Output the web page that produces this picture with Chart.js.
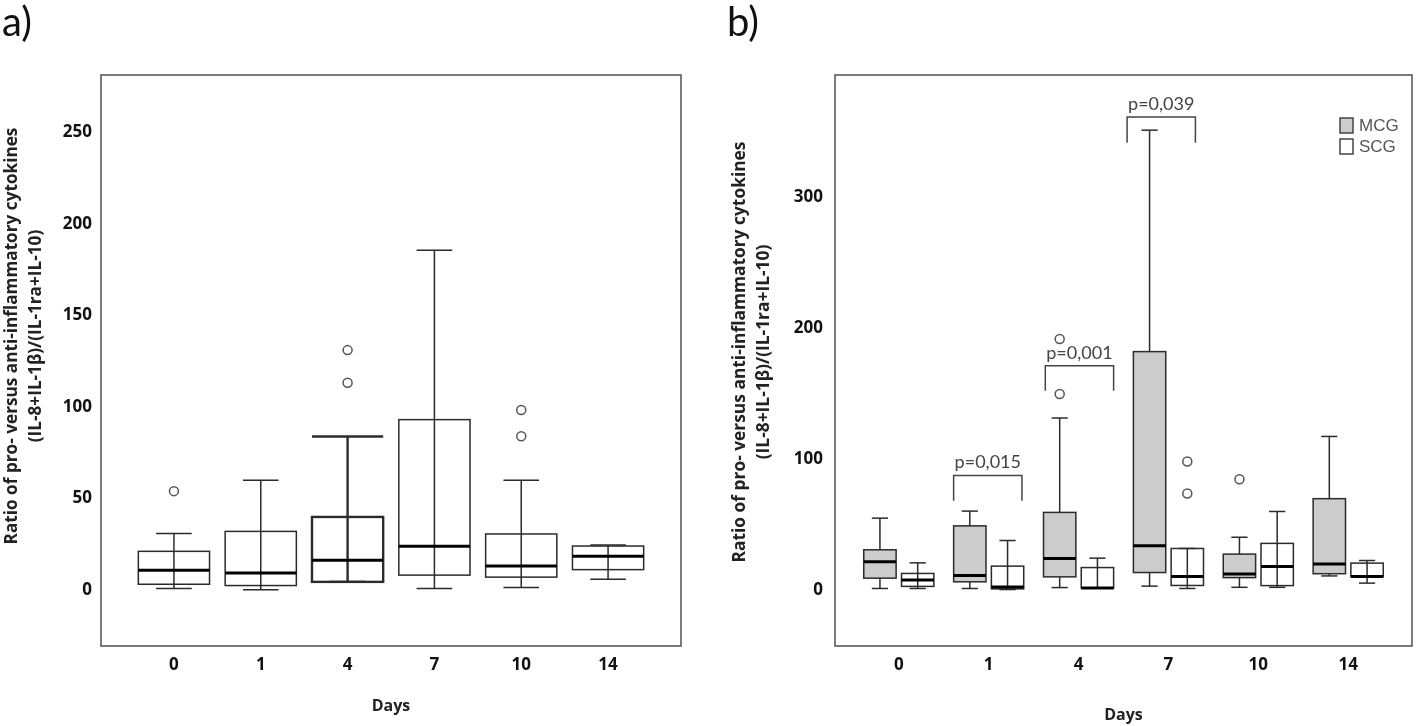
<!DOCTYPE html>
<html><head><meta charset="utf-8">
<script src="https://cdn.jsdelivr.net/npm/chart.js@4"></script>
<style>
html,body{margin:0;padding:0;background:#fff;width:1418px;height:726px;overflow:hidden}
#wa{position:absolute;left:0;top:0;width:709px;height:726px}
#wb{position:absolute;left:709px;top:0;width:709px;height:726px}
</style></head><body>
<div id="wa"><canvas id="ca" width="709" height="726"></canvas></div>
<div id="wb"><canvas id="cb" width="709" height="726"></canvas></div>
<script>
// ---------- data ----------
const days = ['0', '1', '4', '7', '10', '14'];

// panel a: all patients
const aMin = [0.7, 0.0, 4.3, 0.7, 1.2, 5.8];
const aQ1  = [3.0, 2.3, 4.3, 8.0, 6.9, 11.0];
const aMed = [10.7, 9.2, 16.1, 23.8, 13.0, 18.3];
const aQ3  = [21.0, 31.9, 39.8, 93.0, 30.5, 23.9];
const aMax = [30.7, 59.8, 83.8, 185.6, 59.8, 24.4];
const aOut = [[53.9], [], [113.2, 131.0], [], [83.9, 98.3], []];

// panel b: MCG
const mcgMin = [1.0, 1.0, 1.7, 2.8, 1.9, 10.6];
const mcgQ1  = [8.9, 6.1, 9.9, 13.2, 9.3, 12.3];
const mcgMed = [21.5, 10.9, 24.0, 33.6, 12.0, 19.7];
const mcgQ3  = [30.6, 48.9, 59.2, 182.2, 27.3, 69.7];
const mcgMax = [54.8, 60.2, 131.4, 351.6, 40.2, 117.3];
const mcgOut = [[], [], [149.8, 191.9], [], [84.5], []];

// panel b: SCG
const scgMin = [1.0, 0.2, 1.2, 1.0, 1.9, 5.1];
const scgQ1  = [2.6, 0.7, 1.3, 3.3, 3.2, 10.1];
const scgMed = [7.4, 2.2, 1.3, 10.2, 17.8, 10.1];
const scgQ3  = [12.5, 18.1, 17.0, 31.6, 35.5, 20.4];
const scgMax = [20.6, 37.7, 24.2, 31.6, 59.9, 22.4];
const scgOut = [[], [], [], [73.7, 98.2], [], []];

const yTicksA = [0, 50, 100, 150, 200, 250];
const yTicksB = [0, 100, 200, 300];

const pLabels = ['p=0,015', 'p=0,001', 'p=0,039'];
const pDay    = [1, 2, 3];
const pTop    = [87.5, 171.4, 361.6];
const pLeg    = [68.1, 152.3, 342.0];

const seriesNames = ['MCG', 'SCG'];
const yTitle = ['Ratio of pro- versus anti-inflammatory cytokines', '(IL-8+IL-1\u03B2)/(IL-1ra+IL-10)'];
const xTitle = 'Days';
const panelLabels = ['a)', 'b)'];

// ---------- styles ----------
const FONT = 'Lato, "Open Sans", sans-serif';
const BOLD = '"Open Sans", Lato, sans-serif';
const INK = '#2b2b2b';
const GREY_FILL = '#cccccc';
const wideCapA = [false, false, true, false, false, false];
const heavyA = [false, false, true, false, false, false];
const pShift = [-0.01, 0.01, -0.08];

function line(ctx, x1, y1, x2, y2) {
  ctx.beginPath(); ctx.moveTo(x1, y1); ctx.lineTo(x2, y2); ctx.stroke();
}

const boxPlugin = {
  id: 'boxplots',
  beforeDatasetsDraw(chart, args, cfg) {
    const ctx = chart.ctx, xs = chart.scales.x, ys = chart.scales.y;
    const py = v => ys.getPixelForValue(v);
    cfg.groups.forEach(g => {
      g.med.forEach((m, i) => {
        const xc = xs.getPixelForValue(i + g.offset);
        const half = (xs.getPixelForValue(g.width) - xs.getPixelForValue(0)) / 2;
        const capHalf = (g.wide && g.wide[i]) ? half : half / 2;
        ctx.save();
        ctx.strokeStyle = INK;
        ctx.lineWidth = (g.heavy && g.heavy[i]) ? 2.4 : 1.5;
        line(ctx, xc, py(g.min[i]), xc, py(g.max[i]));
        line(ctx, xc - capHalf, py(g.max[i]), xc + capHalf, py(g.max[i]));
        line(ctx, xc - half / 2, py(g.min[i]), xc + half / 2, py(g.min[i]));
        const top = py(g.q3[i]), bot = py(g.q1[i]);
        if (g.fill) { ctx.fillStyle = g.fill; ctx.fillRect(xc - half, top, 2 * half, bot - top); }
        ctx.strokeRect(xc - half, top, 2 * half, bot - top);
        ctx.strokeStyle = '#000'; ctx.lineWidth = 3;
        line(ctx, xc - half, py(m), xc + half, py(m));
        ctx.restore();
      });
    });
  },
  afterDraw(chart, args, cfg) {
    const ctx = chart.ctx, ca = chart.chartArea, xs = chart.scales.x, ys = chart.scales.y;
    ctx.save();
    // frame
    ctx.strokeStyle = '#5a5a5a'; ctx.lineWidth = 1.6;
    ctx.strokeRect(ca.left, ca.top, ca.right - ca.left, ca.bottom - ca.top);
    // panel label
    ctx.fillStyle = '#111'; ctx.font = '40px ' + FONT;
    ctx.textAlign = 'left'; ctx.textBaseline = 'alphabetic';
    ctx.fillText(cfg.panel, cfg.panelX, 36);
    // y title (fit line 1 to target length)
    ctx.font = 'bold 16px ' + BOLD;
    const w = ctx.measureText(yTitle[0]).width;
    const fs = 16 * cfg.titleLen / w;
    ctx.font = 'bold ' + fs.toFixed(2) + 'px ' + BOLD;
    ctx.fillStyle = '#222'; ctx.textAlign = 'center'; ctx.textBaseline = 'middle';
    yTitle.forEach((t, k) => {
      ctx.save();
      ctx.translate(cfg.titleX[k], cfg.titleY);
      ctx.rotate(-Math.PI / 2);
      ctx.fillText(t, 0, 0);
      ctx.restore();
    });
    // x title
    ctx.font = 'bold 16px ' + BOLD;
    ctx.fillText(xTitle, (ca.left + ca.right) / 2, cfg.xTitleY);
    // p brackets
    if (cfg.brackets) {
      ctx.strokeStyle = '#444'; ctx.lineWidth = 1.5; ctx.fillStyle = '#444';
      ctx.font = '18px ' + FONT;
      pLabels.forEach((lab, k) => {
        const l = xs.getPixelForValue(pDay[k] - 0.38 + pShift[k]);
        const r = xs.getPixelForValue(pDay[k] + 0.38 + pShift[k]);
        const t = ys.getPixelForValue(pTop[k]), b = ys.getPixelForValue(pLeg[k]);
        ctx.beginPath(); ctx.moveTo(l, b); ctx.lineTo(l, t); ctx.lineTo(r, t); ctx.lineTo(r, b); ctx.stroke();
        ctx.fillText(lab, (l + r) / 2, t - 13);
      });
    }
    // legend
    if (cfg.legend) {
      const lx = ca.right - 72;
      [GREY_FILL, '#ffffff'].forEach((c, k) => {
        const y0 = 118 + k * 21;
        ctx.fillStyle = c; ctx.fillRect(lx, y0, 13, 15);
        ctx.strokeStyle = '#444'; ctx.lineWidth = 1.5; ctx.strokeRect(lx, y0, 13, 15);
        ctx.fillStyle = '#555'; ctx.font = '17px "Liberation Sans", Arial, sans-serif';
        ctx.textAlign = 'left'; ctx.textBaseline = 'middle';
        ctx.fillText(seriesNames[k], lx + 19, y0 + 8);
      });
    }
    ctx.restore();
  }
};

function outlierPoints(outs, offset) {
  const pts = [];
  outs.forEach((arr, i) => arr.forEach(v => pts.push({ x: i + offset, y: v })));
  return pts;
}

function makeChart(id, o) {
  return new Chart(document.getElementById(id), {
    type: 'scatter',
    data: {
      datasets: [{
        data: o.points,
        pointStyle: 'circle', pointRadius: 4.5, pointBorderWidth: 1.5,
        borderColor: '#555', backgroundColor: 'rgba(0,0,0,0)', showLine: false
      }]
    },
    options: {
      responsive: false, animation: false, events: [],
      layout: { padding: { left: 0, right: o.rightPad, top: 75, bottom: 0 } },
      plugins: { legend: { display: false }, tooltip: { enabled: false }, boxplots: o.box },
      scales: {
        x: {
          type: 'linear', min: o.xMin, max: o.xMax,
          grid: { display: false, drawTicks: false }, border: { display: false },
          afterBuildTicks: s => { s.ticks = days.map((d, i) => ({ value: i })); },
          afterFit: s => { s.height = 80; },
          ticks: { callback: v => days[v], padding: 9, color: '#111',
                   font: { family: BOLD, size: 17, weight: 'bold' }, maxRotation: 0 }
        },
        y: {
          type: 'linear', min: o.yMin, max: o.yMax,
          grid: { display: false, drawTicks: false }, border: { display: false },
          afterBuildTicks: s => { s.ticks = o.yTicks.map(v => ({ value: v })); },
          afterFit: s => { s.width = o.yWidth; },
          ticks: { padding: o.yPad, color: '#111', font: { family: BOLD, size: 17, weight: 'bold' } }
        }
      }
    },
    plugins: [boxPlugin]
  });
}

makeChart('ca', {
  points: outlierPoints(aOut, 0),
  xMin: -0.84, xMax: 5.84, yMin: -30.75, yMax: 281.4, yTicks: yTicksA,
  yWidth: 101, yPad: 9, rightPad: 28,
  box: {
    groups: [{ min: aMin, q1: aQ1, med: aMed, q3: aQ3, max: aMax, offset: 0, width: 0.82,
               fill: null, wide: wideCapA, heavy: heavyA }],
    panel: panelLabels[0], panelX: 2, titleLen: 417, titleX: [12, 36.5], titleY: 336,
    xTitleY: 706, brackets: false, legend: false
  }
});

makeChart('cb', {
  points: outlierPoints(mcgOut, -0.21).concat(outlierPoints(scgOut, 0.21)),
  xMin: -0.71, xMax: 5.71, yMin: -43.0, yMax: 393.8, yTicks: yTicksB,
  yWidth: 126, yPad: 12, rightPad: 5,
  box: {
    groups: [
      { min: mcgMin, q1: mcgQ1, med: mcgMed, q3: mcgQ3, max: mcgMax, offset: -0.21, width: 0.36, fill: GREY_FILL },
      { min: scgMin, q1: scgQ1, med: scgMed, q3: scgQ3, max: scgMax, offset: 0.21, width: 0.36, fill: null }
    ],
    panel: panelLabels[1], panelX: 18, titleLen: 421, titleX: [31, 55], titleY: 352,
    xTitleY: 715, brackets: true, legend: true
  }
});
</script>
</body></html>
